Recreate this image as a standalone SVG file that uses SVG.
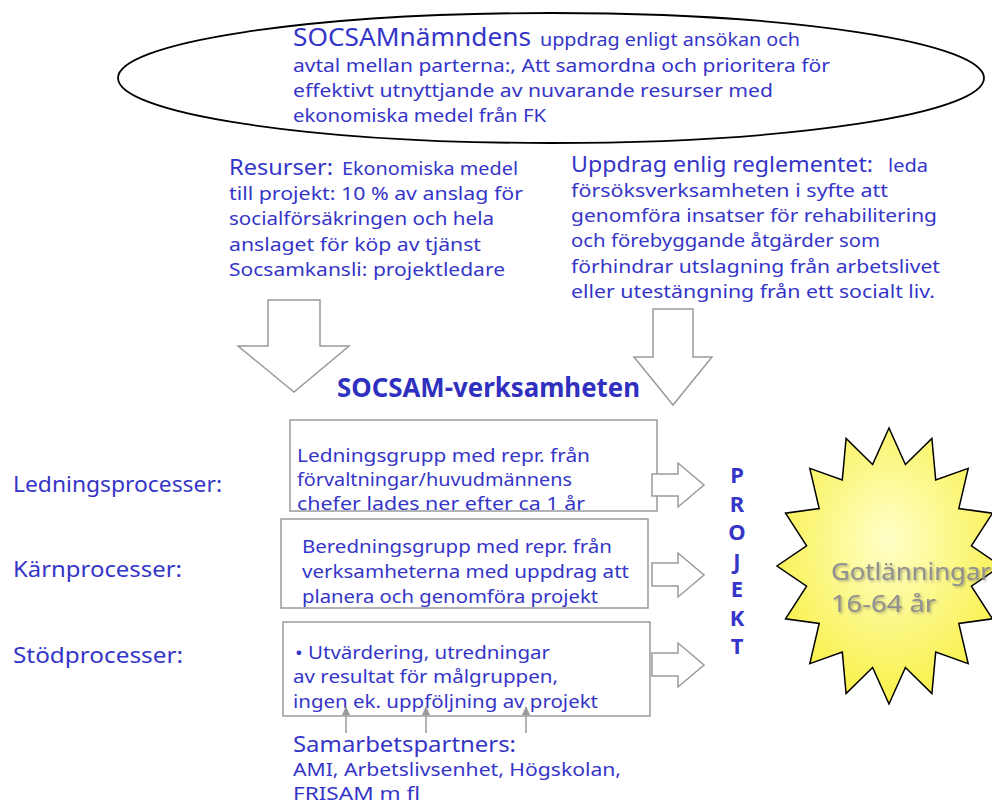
<svg xmlns="http://www.w3.org/2000/svg" width="992" height="804" viewBox="0 0 992 804">
<style>
  text { font-family: "Noto Sans", "DejaVu Sans", sans-serif; fill: #3535C8; }
  .s { font-size: 18px; }
  .m { font-size: 21px; }
  .l { font-size: 25px; }
  .title { font-size: 26px; font-weight: bold; fill: #3030C0; }
  .proj { font-size: 22px; font-weight: bold; text-anchor: middle; }
  .star { font-size: 24px; fill: #909090; }
  .box { fill: #FFFFFF; stroke: #9A9A9A; stroke-width: 1.5; }
  .blk { fill: #FFFFFF; stroke: #9A9A9A; stroke-width: 1.5; stroke-linejoin: miter; }
  .up { stroke: #9A9A9A; stroke-width: 1.5; fill: none; }
</style>
<defs>
  <radialGradient id="sun" cx="0.5" cy="0.42" r="0.6" fx="0.5" fy="0.4">
    <stop offset="0" stop-color="#FFFFC8"/>
    <stop offset="1" stop-color="#F8F044"/>
  </radialGradient>
  <marker id="ah" markerWidth="10" markerHeight="10" refX="8" refY="5" orient="auto" markerUnits="userSpaceOnUse">
    <path d="M0,1 L9,5 L0,9 Z" fill="#9A9A9A"/>
  </marker>
  <filter id="sh" x="-10%" y="-20%" width="130%" height="150%">
    <feDropShadow dx="1.5" dy="1.5" stdDeviation="0.8" flood-color="#555555" flood-opacity="0.45"/>
  </filter>
</defs>
<rect width="992" height="804" fill="#FFFFFF"/>

<g id="namnd">
  <ellipse cx="551" cy="78" rx="433" ry="65" fill="#FFFFFF" stroke="#000000" stroke-width="1.8"/>
  <text class="l" x="293" y="46" textLength="238" lengthAdjust="spacingAndGlyphs">SOCSAMnämndens</text>
  <text class="s" x="540" y="46" textLength="260" lengthAdjust="spacingAndGlyphs">uppdrag enligt ansökan och</text>
  <text class="s" x="293" y="72" textLength="537" lengthAdjust="spacingAndGlyphs">avtal mellan parterna:, Att samordna och prioritera för</text>
  <text class="s" x="293" y="97" textLength="480" lengthAdjust="spacingAndGlyphs">effektivt utnyttjande av nuvarande resurser med</text>
  <text class="s" x="293" y="122" textLength="253" lengthAdjust="spacingAndGlyphs">ekonomiska medel från FK</text>
</g>

<g id="resurser">
  <text class="m" x="229" y="175" textLength="104" lengthAdjust="spacingAndGlyphs">Resurser:</text>
  <text class="s" x="342" y="175" textLength="176" lengthAdjust="spacingAndGlyphs">Ekonomiska medel</text>
  <text class="s" x="229" y="200" textLength="294" lengthAdjust="spacingAndGlyphs">till projekt: 10 % av anslag för</text>
  <text class="s" x="229" y="225" textLength="265" lengthAdjust="spacingAndGlyphs">socialförsäkringen och hela</text>
  <text class="s" x="229" y="251" textLength="252" lengthAdjust="spacingAndGlyphs">anslaget för köp av tjänst</text>
  <text class="s" x="229" y="276" textLength="276" lengthAdjust="spacingAndGlyphs">Socsamkansli: projektledare</text>
</g>

<g id="uppdrag">
  <text class="m" x="571" y="172" textLength="302" lengthAdjust="spacingAndGlyphs">Uppdrag enlig reglementet:</text>
  <text class="s" x="888" y="172" textLength="40" lengthAdjust="spacingAndGlyphs">leda</text>
  <text class="s" x="571" y="197" textLength="317" lengthAdjust="spacingAndGlyphs">försöksverksamheten i syfte att</text>
  <text class="s" x="571" y="222" textLength="366" lengthAdjust="spacingAndGlyphs">genomföra insatser för rehabilitering</text>
  <text class="s" x="571" y="247" textLength="309" lengthAdjust="spacingAndGlyphs">och förebyggande åtgärder som</text>
  <text class="s" x="571" y="273" textLength="369" lengthAdjust="spacingAndGlyphs">förhindrar utslagning från arbetslivet</text>
  <text class="s" x="571" y="298" textLength="364" lengthAdjust="spacingAndGlyphs">eller utestängning från ett socialt liv.</text>
</g>

<g id="verksamheten">
  <text class="title" x="337" y="397" textLength="303" lengthAdjust="spacingAndGlyphs">SOCSAM-verksamheten</text>
</g>

<g id="ledning">
  <text class="m" x="13" y="492" textLength="209" lengthAdjust="spacingAndGlyphs">Ledningsprocesser:</text>
  <rect class="box" x="290" y="420" width="367" height="91"/>
  <text class="s" x="297" y="462" textLength="293" lengthAdjust="spacingAndGlyphs">Ledningsgrupp med repr.  från</text>
  <text class="s" x="297" y="486" textLength="275" lengthAdjust="spacingAndGlyphs">förvaltningar/huvudmännens</text>
  <text class="s" x="297" y="510" textLength="288" lengthAdjust="spacingAndGlyphs">chefer lades ner efter ca 1 år</text>
</g>

<g id="karn">
  <text class="m" x="13" y="577" textLength="169" lengthAdjust="spacingAndGlyphs">Kärnprocesser:</text>
  <rect class="box" x="281" y="519" width="367" height="89"/>
  <text class="s" x="302" y="553" textLength="310" lengthAdjust="spacingAndGlyphs">Beredningsgrupp med repr. från</text>
  <text class="s" x="302" y="578" textLength="327" lengthAdjust="spacingAndGlyphs">verksamheterna med uppdrag  att</text>
  <text class="s" x="302" y="603" textLength="296" lengthAdjust="spacingAndGlyphs">planera och genomföra projekt</text>
</g>

<g id="stod">
  <text class="m" x="13" y="663" textLength="170" lengthAdjust="spacingAndGlyphs">Stödprocesser:</text>
  <rect class="box" x="283" y="622" width="367" height="94"/>
  <text class="s" x="295" y="659" textLength="255" lengthAdjust="spacingAndGlyphs">• Utvärdering, utredningar</text>
  <text class="s" x="293" y="683" textLength="265" lengthAdjust="spacingAndGlyphs">av resultat för målgruppen,</text>
  <text class="s" x="293" y="708" textLength="305" lengthAdjust="spacingAndGlyphs">ingen ek. uppföljning av projekt</text>
</g>

<g id="partners">
  <text class="m" x="293" y="752" textLength="223" lengthAdjust="spacingAndGlyphs">Samarbetspartners:</text>
  <text class="s" x="293" y="776" textLength="328" lengthAdjust="spacingAndGlyphs">AMI, Arbetslivsenhet, Högskolan,</text>
  <text class="s" x="293" y="800" textLength="127" lengthAdjust="spacingAndGlyphs">FRISAM m fl</text>
</g>

<g id="projekt">
  <text class="proj" x="737" y="483">P</text>
  <text class="proj" x="737" y="511.5">R</text>
  <text class="proj" x="737" y="540">O</text>
  <text class="proj" x="737" y="568.5">J</text>
  <text class="proj" x="737" y="597">E</text>
  <text class="proj" x="737" y="625.5">K</text>
  <text class="proj" x="737" y="654">T</text>
</g>

<g id="gotlanningar">
  <polygon fill="url(#sun)" stroke="#000000" stroke-width="1.5" stroke-linejoin="miter" points="889,428 905.4,464.5 931.9,438.5 935.7,479.9 968.2,468.4 958.8,508.5 992.5,513.2 971.4,545.8 1001,566 971.4,586.2 992.5,618.8 958.8,623.5 968.2,663.6 935.7,652.1 931.9,693.5 905.4,667.5 889,704 872.6,667.5 846.1,693.5 842.3,652.1 809.8,663.6 819.2,623.5 785.5,618.8 806.6,586.2 777,566 806.6,545.8 785.5,513.2 819.2,508.5 809.8,468.4 842.3,479.9 846.1,438.5 872.6,464.5"/>
  <text class="star" x="831" y="580" textLength="160" lengthAdjust="spacingAndGlyphs" filter="url(#sh)">Gotlänningar</text>
  <text class="star" x="831" y="612" textLength="105" lengthAdjust="spacingAndGlyphs" filter="url(#sh)">16-64 år</text>
</g>

<g id="connectors">
  <path class="blk" d="M268,300 L320,300 L320,346 L349,346 L294,392 L238,346 L268,346 Z"/>
  <path class="blk" d="M653,309 L693,309 L693,357 L712,357 L673,405 L634,357 L653,357 Z"/>
  <path class="blk" d="M652,474 L678,474 L678,463 L704,485 L678,507 L678,496 L652,496 Z"/>
  <path class="blk" d="M652,563 L678,563 L678,553 L704,575 L678,597 L678,586 L652,586 Z"/>
  <path class="blk" d="M652,653 L678,653 L678,643 L704,665 L678,687 L678,676 L652,676 Z"/>
  <line class="up" x1="346" y1="733" x2="346" y2="707" marker-end="url(#ah)"/>
  <line class="up" x1="426" y1="733" x2="426" y2="707" marker-end="url(#ah)"/>
  <line class="up" x1="526" y1="733" x2="526" y2="707" marker-end="url(#ah)"/>
</g>
</svg>
